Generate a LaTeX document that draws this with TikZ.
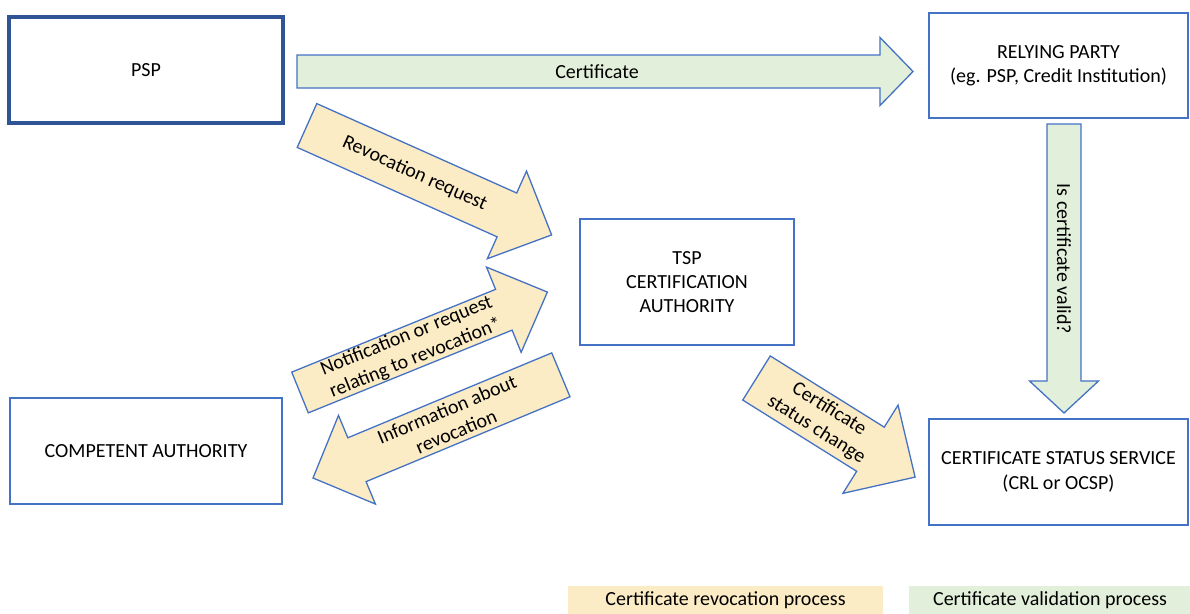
\documentclass[tikz,border=0pt]{standalone}
\usepackage{fontspec}
\setmainfont{Carlito}
\definecolor{boxblue}{HTML}{4472C4}
\definecolor{darkblue}{HTML}{2F5597}
\definecolor{yfill}{HTML}{FCECC6}
\definecolor{gfill}{HTML}{E2EFDA}
\begin{document}
\begin{tikzpicture}[x=1pt,y=-1pt,
  box/.style={draw=boxblue, line width=1.3pt, fill=white, align=center,
    font=\fontsize{20}{24.4}\selectfont, inner sep=0pt},
  arrshape/.style={draw=boxblue, line width=1.3pt, line join=miter},
  yarr/.style={arrshape, fill=yfill},
  garr/.style={arrshape, fill=gfill},
  lab/.style={font=\fontsize{20}{24}\selectfont, align=center, inner sep=0pt, transform shape},
  legend/.style={inner sep=0pt, font=\fontsize{20}{24}\selectfont}]
\useasboundingbox (0,0) rectangle (1190,613);

% boxes
\node[box, line width=3.5pt, draw=darkblue, minimum width=274pt, minimum height=106pt] (psp) at (146,70) {PSP};
\node[box, minimum width=259pt, minimum height=105pt] (rp) at (1058.5,65.5) {RELYING PARTY\\(eg. PSP, Credit Institution)};
\node[box, minimum width=214pt, minimum height=126pt] (tsp) at (687,282) {TSP\\CERTIFICATION\\AUTHORITY};
\node[box, minimum width=272pt, minimum height=106pt] (ca) at (146,451) {COMPETENT AUTHORITY};
\node[box, minimum width=259pt, minimum height=106pt] (css) at (1058.5,472) {CERTIFICATE STATUS SERVICE\\(CRL or OCSP)};

% Certificate arrow
\begin{scope}[shift={(297,71.5)}]
\draw[garr] (0,-16.5) -- (583,-16.5) -- (583,-34) -- (616,0) -- (583,34) -- (583,16.5) -- (0,16.5) -- cycle;
\node[lab] (certlab) at (300,0) {Certificate};
\end{scope}

% Is certificate valid arrow
\begin{scope}[shift={(1064,124)}, rotate=-90]
\draw[garr] (0,-17) -- (257,-17) -- (257,-34.5) -- (289,0) -- (257,34.5) -- (257,17) -- (0,17) -- cycle;
\node[lab] (validlab) at (135,0) {Is certificate valid?};
\end{scope}

% Revocation request arrow
\begin{scope}[shift={(307,125.5)}, rotate=-24.1]
\draw[yarr] (0,-24) -- (219,-24) -- (219,-48) -- (268,0) -- (219,48) -- (219,24) -- (0,24) -- cycle;
\node[lab] (revlab) at (118,0) {Revocation request};
\end{scope}

% Notification arrow
\begin{scope}[shift={(300,392.5)}, rotate=22.1]
\draw[yarr] (0,-22) -- (220,-22) -- (220,-46) -- (267,0) -- (220,46) -- (220,22) -- (0,22) -- cycle;
\node[lab] (notlab) at (120,0) {Notification or request\\relating to revocation*};
\end{scope}

% Information arrow
\begin{scope}[shift={(313,478)}, rotate=22.6]
\draw[yarr] (0,0) -- (47.6,-48) -- (47.6,-23.75) -- (268.5,-23.75) -- (268.5,23.75) -- (47.6,23.75) -- (47.6,48) -- cycle;
\node[lab] (infolab) at (150,0) {Information about\\revocation};
\end{scope}

% Status change arrow
\begin{scope}[shift={(756.5,378)}, rotate=-32]
\draw[yarr] (0,-26) -- (134.4,-26) -- (134.4,-52) -- (187,0) -- (134.4,52) -- (134.4,26) -- (0,26) -- cycle;
\node[lab] (statlab) at (78,0) {Certificate\\status change};
\end{scope}

% legend
\node[legend, fill=yfill, minimum width=315pt, minimum height=28pt] (legrev) at (725.5,600) {Certificate revocation process};
\node[legend, fill=gfill, minimum width=282pt, minimum height=28pt] (legval) at (1050,600) {Certificate validation process};
\end{tikzpicture}
\end{document}
